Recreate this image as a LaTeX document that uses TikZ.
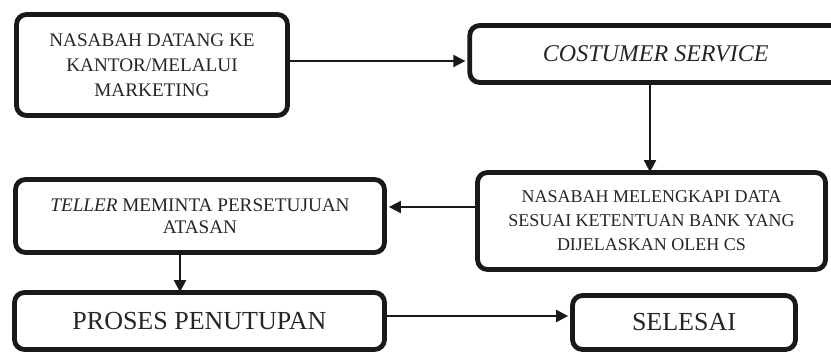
\documentclass[tikz,border=0pt]{standalone}
\usepackage{fontspec}
\setmainfont{Liberation Serif}
\usetikzlibrary{arrows.meta,calc}
\begin{document}
\begin{tikzpicture}[x=1pt,y=-1pt,
  boxst/.style={draw=black!90, line width=4.8pt, rounded corners=10pt, fill=white, align=center, inner sep=0pt, text=black!85},
  small/.style={font=\fontsize{18}{24}\selectfont},
  big/.style={font=\fontsize{26}{30}\selectfont},
  arr/.style={draw=black!90, line width=2pt, -{Triangle[length=12pt,width=12pt]}}
]
\useasboundingbox (0,0) rectangle (831,353);
\clip (0,0) rectangle (831,353);
\node[boxst, font=\fontsize{19.2}{25}\selectfont, minimum width=271pt, minimum height=101pt] (b1) at (152,65)
  {NASABAH DATANG KE\\KANTOR/MELALUI\\MARKETING};
\node[boxst, minimum width=372pt, minimum height=57pt, font=\fontsize{24}{28}\selectfont\itshape] (b2) at (655.75,54)
  {COSTUMER SERVICE};
\node[boxst, small, minimum width=348pt, minimum height=97pt] (b3) at (651.5,221)
  {NASABAH MELENGKAPI DATA\\SESUAI KETENTUAN BANK YANG\\DIJELASKAN OLEH CS};
\node[boxst, minimum width=369pt, minimum height=73pt, font=\fontsize{19.2}{22}\selectfont] (b4) at (200,216)
  {\textit{TELLER} MEMINTA PERSETUJUAN\\ATASAN};
\node[boxst, big, minimum width=370pt, minimum height=57pt] (b5) at (199.5,321)
  {PROSES PENUTUPAN};
\node[boxst, big, minimum width=223pt, minimum height=54pt] (b6) at (684,322.5)
  {SELESAI};
\coordinate (y1) at (0,61);
\coordinate (x2) at (650,0);
\coordinate (y3) at (0,207);
\coordinate (x4) at (180,0);
\coordinate (y5) at (0,316);
\draw[arr] (b1.east |- y1) -- ([xshift=-2pt]b2.west |- y1);
\draw[arr] (b2.south -| x2) -- ([yshift=-2pt]b3.north -| x2);
\draw[arr] (b3.west |- y3) -- ([xshift=2pt]b4.east |- y3);
\draw[arr] (b4.south -| x4) -- ([yshift=-2pt]b5.north -| x4);
\draw[arr] (b5.east |- y5) -- ([xshift=-2pt]b6.west |- y5);
\end{tikzpicture}
\end{document}
